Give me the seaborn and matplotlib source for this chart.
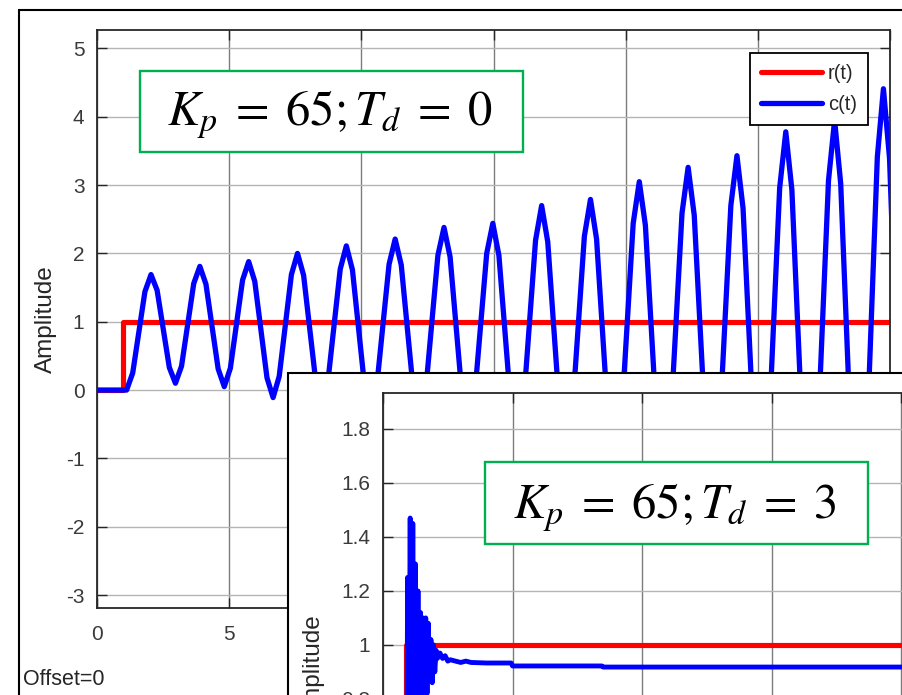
import numpy as np
import pandas as pd
import matplotlib
matplotlib.use("Agg")
import matplotlib.pyplot as plt
import seaborn as sns
from matplotlib.patches import Rectangle
from matplotlib.transforms import IdentityTransform
from matplotlib.ticker import FuncFormatter

# ---------------- data ----------------
# main chart: Kp = 65, Td = 0
r1_t = [0, 1, 30]
r1_v = [0, 1, 1]
c1_start = 1.12          # first oscillation sample time (s)
c1_step = 0.2309         # sample interval (s)
c1_v = [0.00,
        0.00, 0.25, 0.85, 1.44, 1.69, 1.46, 0.90, 0.33,
        0.10, 0.35, 0.96, 1.56, 1.81, 1.55, 0.93, 0.31,
        0.05, 0.32, 0.97, 1.61, 1.88, 1.59, 0.89, 0.18,
        -0.11, 0.20, 0.95, 1.69, 2.00, 1.68, 0.90, 0.12,
        -0.20, 0.14, 0.96, 1.77, 2.11, 1.76, 0.91, 0.05,
        -0.30, 0.07, 0.96, 1.84, 2.21, 1.83, 0.90, -0.03,
        -0.42, -0.01, 0.98, 1.97, 2.38, 1.95, 0.92, -0.12,
        -0.55, -0.11, 0.95, 2.00, 2.44, 1.97, 0.85, -0.28,
        -0.75, -0.24, 0.98, 2.19, 2.70, 2.17, 0.90, -0.37,
        -0.90, -0.36, 0.95, 2.25, 2.79, 2.21, 0.82, -0.57,
        -1.15, -0.54, 0.95, 2.44, 3.05, 2.41, 0.85, -0.71,
        -1.35, -0.68, 0.96, 2.59, 3.26, 2.56, 0.86, -0.85,
        -1.55, -0.82, 0.94, 2.70, 3.43, 2.66, 0.79, -1.08,
        -1.85, -1.03, 0.97, 2.96, 3.78, 2.93, 0.87, -1.20,
        -2.05, -1.17, 0.95, 3.07, 3.95, 3.02, 0.78, -1.47,
        -2.40, -1.40, 1.01, 3.41, 4.41, 3.39, 0.90]

# inset chart: Kp = 65, Td = 3
r2_t = [0, 0.9, 30]
r2_v = [0, 1, 1]
c2_t = [0, 0.9, 0.95, 1.0, 1.05, 1.1, 1.15, 1.2, 1.25, 1.3, 1.35, 1.4, 1.45,
        1.5, 1.55, 1.6, 1.65, 1.7, 1.75, 1.8, 1.85, 1.9, 1.95, 2.0, 2.05,
        2.1, 2.2, 2.3, 2.4, 2.5, 2.6, 2.8, 3.0, 3.2, 3.4, 4.0, 4.95, 5.0,
        8.45, 8.5, 30]
c2_v = [0, 0, 1.25, 0.60, 1.47, 0.55, 1.45, 0.60, 1.30, 0.70, 1.20, 0.75, 1.12,
        0.80, 1.10, 0.78, 1.10, 0.82, 1.08, 0.87, 1.02, 0.86, 1.00, 0.90, 0.98,
        0.95, 0.97, 0.95, 0.96, 0.94, 0.945, 0.94, 0.935, 0.94, 0.935, 0.933, 0.933, 0.922,
        0.922, 0.918, 0.918]

x_ticks = [0, 5, 10, 15, 20, 25, 30]
x_ticklabels = ["0", "5", "", "", "", "", ""]   # the rest lie under the inset
y1_ticks = [-3, -2, -1, 0, 1, 2, 3, 4, 5]
y2_ticks = [0, 0.2, 0.4, 0.6, 0.8, 1.0, 1.2, 1.4, 1.6, 1.8]
series_labels = ["r(t)", "c(t)"]
box1_text = r"$K_p\;=\;65;T_d\;=\;0$"
box2_text = r"$K_p\;=\;65;T_d\;=\;3$"
y_label = "Amplitude"
offset_text = "Offset=0"

# ---------------- style ----------------
sns.set_style("white")
plt.rcParams["font.family"] = ["Liberation Sans", "DejaVu Sans"]
plt.rcParams["mathtext.fontset"] = "stix"
plt.rcParams["axes.unicode_minus"] = False

W, H = 902, 695
fig = plt.figure(figsize=(W / 100, H / 100), dpi=100)
PX = IdentityTransform()

RED = "#ff0000"
BLUE = "#0000ff"
GREEN = "#00b050"
AX_COL = "#262626"
TXT_COL = "#3a3a3a"


def ax_rect(left, top, right, bottom):
    return [left / W, (H - bottom) / H, (right - left) / W, (bottom - top) / H]


def style_axes(ax):
    for s in ax.spines.values():
        s.set_color(AX_COL)
        s.set_linewidth(1.3)
        s.set_visible(True)
    ax.tick_params(axis="both", direction="in", length=7, width=1.0,
                   color=AX_COL, labelcolor=TXT_COL, labelsize=15,
                   top=True, right=True, left=True, bottom=True)
    ax.tick_params(axis="y", pad=9)
    ax.tick_params(axis="x", pad=12)
    ax.set_axisbelow(True)
    ax.xaxis.grid(True, color="#7c7c7c", linewidth=1.0)
    ax.yaxis.grid(True, color="#b4b4b4", linewidth=1.0)
    ax.yaxis.set_major_formatter(FuncFormatter(lambda v, p: f"{v:g}"))


# outer window frame
fig.add_artist(Rectangle((19, -60), 1000, H - 10 + 60, transform=PX,
                         facecolor="none", edgecolor="black", linewidth=1.5,
                         zorder=0.5))

# ---------------- main axes ----------------
ax = fig.add_axes(ax_rect(97, 30, 890, 608))
ax.set_zorder(1)
df_r1 = pd.DataFrame({"t": r1_t, "v": r1_v})
c1_t = np.r_[0.0, c1_start + c1_step * np.arange(len(c1_v) - 1)]
df_c1 = pd.DataFrame({"t": c1_t, "v": c1_v})
sns.lineplot(data=df_r1, x="t", y="v", ax=ax, color=RED, linewidth=3.7,
             estimator=None, sort=False, drawstyle="steps-post",
             label=series_labels[0])
sns.lineplot(data=df_c1, x="t", y="v", ax=ax, color=BLUE, linewidth=3.8,
             estimator=None, sort=False, label=series_labels[1])
ax.set_xlim(0, 30)
ax.set_ylim(-3.19, 5.27)
ax.set_xticks(x_ticks)
ax.set_xticklabels(x_ticklabels)
ax.set_yticks(y1_ticks)
style_axes(ax)
ax.set_xlabel("")
ax.set_ylabel(y_label, fontsize=17.5, color=AX_COL)
ax.yaxis.set_label_coords((57 - 97) / 793, 0.5)

handles, labels = ax.get_legend_handles_labels()
leg = ax.legend(handles, labels, loc="upper right",
                bbox_to_anchor=(868, H - 53), bbox_transform=PX,
                borderaxespad=0, frameon=True, fancybox=False,
                framealpha=1, edgecolor="black", fontsize=14.5,
                handlelength=3.0, handletextpad=0.3, labelspacing=0.6,
                borderpad=0.55)
leg.get_frame().set_linewidth(1.3)
for t in leg.get_texts():
    t.set_color(AX_COL)

# main text box
fig.add_artist(Rectangle((140, H - 152), 383, 81, transform=PX,
                         facecolor="white", edgecolor=GREEN, linewidth=1.7,
                         zorder=2))
fig.text(330, H - 125, box1_text, transform=PX, ha="center", va="baseline",
         fontsize=35, color="black", zorder=2.5)

fig.text(23, H - 685, offset_text, transform=PX, ha="left", va="baseline",
         fontsize=15.5, color=AX_COL, zorder=2.5)

# ---------------- inset ----------------
fig.add_artist(Rectangle((288, -100), 800, H - 373 + 100, transform=PX,
                         facecolor="white", edgecolor="black", linewidth=1.5,
                         zorder=3))
ax2 = fig.add_axes(ax_rect(383, 393, 383 + 777, 943))
ax2.set_zorder(4)
df_r2 = pd.DataFrame({"t": r2_t, "v": r2_v})
df_c2 = pd.DataFrame({"t": c2_t, "v": c2_v})
sns.lineplot(data=df_r2, x="t", y="v", ax=ax2, color=RED, linewidth=3.7,
             estimator=None, sort=False, drawstyle="steps-post")
sns.lineplot(data=df_c2, x="t", y="v", ax=ax2, color=BLUE, linewidth=3.5,
             estimator=None, sort=False)
ax2.set_xlim(0, 30)
ax2.set_ylim(-0.104, 1.933)
ax2.set_xticks(x_ticks)
ax2.set_yticks(y2_ticks)
style_axes(ax2)
ax2.tick_params(axis="x", labelbottom=False)
ax2.set_xlabel("")
ax2.set_ylabel(y_label, fontsize=17.5, color=AX_COL)
ax2.yaxis.set_label_coords((325 - 383) / 777, 0.5)

fig.add_artist(Rectangle((485, H - 544), 383, 82, transform=PX,
                         facecolor="white", edgecolor=GREEN, linewidth=1.7,
                         zorder=5))
fig.text(675, H - 518, box2_text, transform=PX, ha="center", va="baseline",
         fontsize=35, color="black", zorder=5.5)

fig.savefig("out.png", dpi=100)
